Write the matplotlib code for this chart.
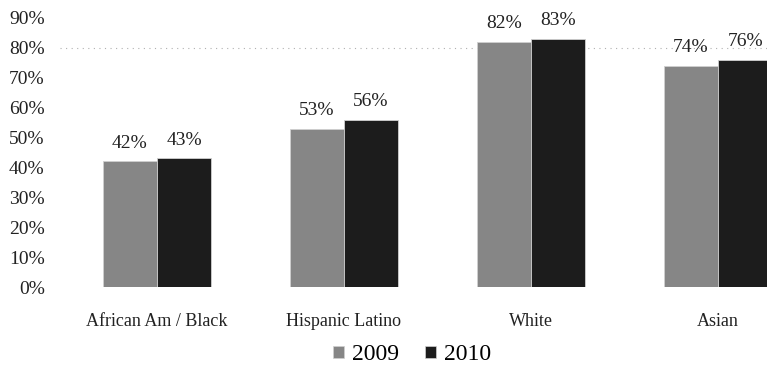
import matplotlib
matplotlib.use("Agg")
import matplotlib.pyplot as plt
from matplotlib.patches import Patch
import numpy as np

categories = ["African Am / Black", "Hispanic Latino", "White", "Asian"]
series_names = ["2009", "2010"]
values_2009 = [42, 53, 82, 74]
values_2010 = [43, 56, 83, 76]
y_ticks = [0, 10, 20, 30, 40, 50, 60, 70, 80, 90]

plt.rcParams['font.family'] = ['Liberation Serif', 'DejaVu Serif']

W, H = 767, 375
fig = plt.figure(figsize=(W / 100, H / 100), dpi=100)
left_px, right_px = 60, 767
bottom_px, top_px = 287, 18
ax = fig.add_axes([left_px / W, (H - bottom_px) / H, (right_px - left_px) / W, (bottom_px - top_px) / H])

x = np.arange(len(categories))
bw = 0.29
c09, c10 = "#868686", "#1c1c1c"
b1 = ax.bar(x - bw / 2, values_2009, bw, color=c09, edgecolor="#d0d0d0", linewidth=0.6, zorder=3)
b2 = ax.bar(x + bw / 2, values_2010, bw, color=c10, edgecolor="#d0d0d0", linewidth=0.6, zorder=3)

for rects, vals in ((b1, values_2009), (b2, values_2010)):
    for r, v in zip(rects, vals):
        ax.annotate(f"{v}%", (r.get_x() + r.get_width() / 2, v), xytext=(0, 7),
                    textcoords="offset points", ha="center", va="bottom",
                    fontsize=14, color="#222222", annotation_clip=False)

ax.axhline(80, color="#b0b0b0", linestyle=(0, (1, 4)), linewidth=0.8, zorder=1)

ax.set_xlim((left_px - 157) / 187, (right_px - 157) / 187)
ax.set_ylim(0, 90)
ax.set_yticks(y_ticks)
ax.set_yticklabels([f"{t}%" for t in y_ticks], fontsize=14, color="#222222")
ax.set_xticks(x)
ax.set_xticklabels(categories, fontsize=13, color="#222222")
ax.tick_params(axis="y", length=0, pad=11)
ax.tick_params(axis="x", length=0, pad=19)
for s in ax.spines.values():
    s.set_visible(False)

handles = [Patch(facecolor=c09, edgecolor="#d0d0d0", linewidth=0.5),
           Patch(facecolor=c10, edgecolor="#d0d0d0", linewidth=0.5)]
fig.legend(handles, series_names, loc="center", bbox_to_anchor=(412 / W, 1 - 355 / H),
           ncol=2, frameon=False, fontsize=17, handlelength=0.45, handleheight=0.45,
           handletextpad=0.35, columnspacing=1.1)

fig.savefig("out.png", dpi=100)
